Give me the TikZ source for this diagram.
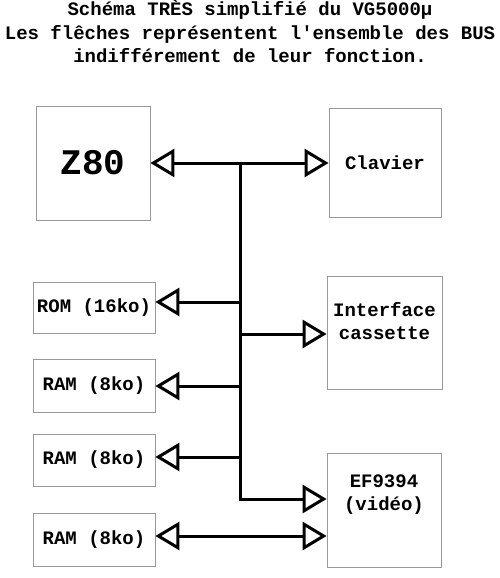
\documentclass[tikz,border=0pt]{standalone}
\usepackage{fontspec}
\setmonofont{Liberation Mono}
\usetikzlibrary{positioning,calc,arrows.meta}
\tikzset{
  blk/.style={draw=black!40,line width=0.8pt,inner sep=0pt,align=center,font=\ttfamily\bfseries\fontsize{19}{24}\selectfont},
  bus/.style={line width=3pt,line join=miter},
  hd/.style={font=\ttfamily\bfseries\fontsize{19}{23.5}\selectfont,anchor=base,inner sep=0pt}
}

\begin{document}
\begin{tikzpicture}[x=1pt,y=-1pt,>={Triangle[open,length=24pt,width=28pt,line join=miter]}]
  \useasboundingbox (0,0) rectangle (500,578);
  % title
  \node[hd] (title1) at (250,15.7) {Schéma TRÈS simplifié du VG5000µ};
  \node[hd] (title2) at (250,39.2) {Les flêches représentent l'ensemble des BUS};
  \node[hd] (title3) at (250,62.7) {indifférement de leur fonction.};
  % boxes
  \node[blk,minimum width=114pt,minimum height=114pt,font=\ttfamily\bfseries\fontsize{36}{40}\selectfont] (z80) at (93,163) {Z80};
  \node[blk,minimum width=112pt,minimum height=109pt] (clav) at (385,163) {Clavier};
  \node[blk,minimum width=115pt,minimum height=113pt] (cass) at (384.5,332.5) {};
  \node[hd,align=center,anchor=center] (casstxt) at (384.5,321) {Interface\\cassette};
  \node[blk,minimum width=122pt,minimum height=51pt] (rom) at (94,307.5) {ROM (16ko)};
  \node[blk,minimum width=122pt,minimum height=53pt] (ramA) at (94,385.5) {RAM (8ko)};
  \node[blk,minimum width=122pt,minimum height=52pt] (ramB) at (94,460) {RAM (8ko)};
  \node[blk,minimum width=122pt,minimum height=53pt] (ramC) at (94,539.5) {RAM (8ko)};
  \node[blk,minimum width=114pt,minimum height=114pt] (ef) at (384,510) {};
  \node[hd,align=center,anchor=center] (eftxt) at (384,494.5) {EF9394\\(vidéo)};
  % bus
  \coordinate (jtop) at (240,163);
  \coordinate (jrom) at (240,302);
  \coordinate (jcass) at (240,334);
  \coordinate (jramA) at (240,386);
  \coordinate (jramB) at (240,457);
  \coordinate (jef) at (240,499);
  \coordinate (jramC) at (240,536);
  \draw[bus,<->] (z80.east) -- (clav.west);
  \draw[bus,->] (jtop) -- (jef) -- (jef -| ef.west);
  \draw[bus,->] (jrom) -- (jrom -| rom.east);
  \draw[bus,->] (jcass) -- (jcass -| cass.west);
  \draw[bus,->] (jramA) -- (jramA -| ramA.east);
  \draw[bus,->] (jramB) -- (jramB -| ramB.east);
  \draw[bus,<->] (jramC -| ramC.east) -- (jramC -| ef.west);
\end{tikzpicture}
\end{document}
